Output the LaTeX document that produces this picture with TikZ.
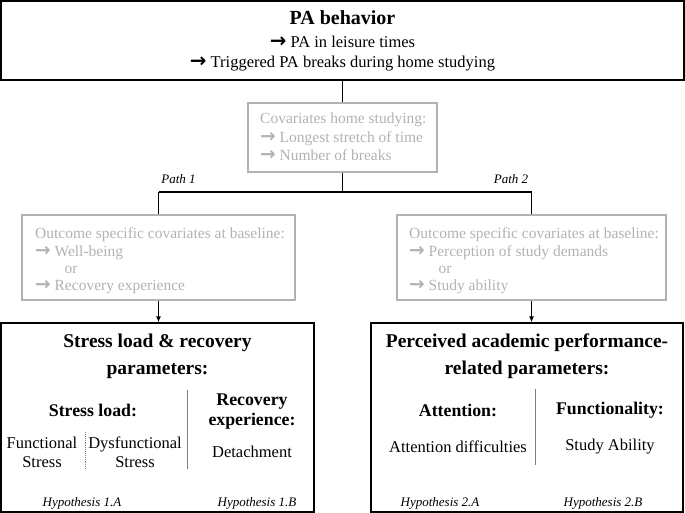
\documentclass[tikz,border=0pt]{standalone}
\usepackage{fontspec}
\setmainfont{Liberation Serif}
\newfontfamily\arrowfont{DejaVu Sans}
\newcommand\rarr{{\arrowfont\bfseries\fontsize{1.2em}{1em}\selectfont →}}
\usetikzlibrary{arrows.meta}
\definecolor{lightgrey}{RGB}{178,178,178}

\tikzset{
  box/.style={draw, line width=1.3pt, inner sep=0pt},
  greybox/.style={draw=lightgrey, line width=1.3pt, inner sep=0pt},
  conn/.style={line width=1.1pt},
  head/.style={font=\fontsize{19.5}{27}\selectfont\bfseries, align=center},
  subhead/.style={font=\fontsize{17.8}{20}\selectfont\bfseries, align=center},
  txt/.style={font=\fontsize{16.5}{19}\selectfont, align=center},
  greytxt/.style={font=\fontsize{15.5}{17.2}\selectfont, text=lightgrey, align=left, inner sep=0pt},
  hyp/.style={font=\fontsize{13}{15}\selectfont\itshape},
  divider/.style={draw=gray, line width=0.9pt},
}

\begin{document}
\begin{tikzpicture}[x=1pt,y=-1pt]
\useasboundingbox (0,0) rectangle (685,513);
% PA behaviour
\node[box, minimum width=683, minimum height=79] (pa) at (342.5,40.5) {};
\node[head, font=\fontsize{20}{24}\selectfont\bfseries] (patitle) at (342.5,18) {PA behavior};
\node[txt] (pa1) at (342.5,42) {\rarr\ PA in leisure times};
\node[txt] (pa2) at (342.5,64) {\rarr\ Triggered PA breaks during home studying};
% covariates home studying
\node[greybox, minimum width=189, minimum height=69] (cov) at (342.5,137.5) {};
\node[greytxt, anchor=west, font=\fontsize{15.5}{18.5}\selectfont] (covtxt) at (260,137) {Covariates home studying:\\\rarr\ Longest stretch of time\\\rarr\ Number of breaks};
% paths
\coordinate (split) at (342.5,192);
\coordinate (left) at (158.5,192);
\coordinate (right) at (531.5,192);
\node[hyp] (path1) at (178.5,179) {Path 1};
\node[hyp] (path2) at (511,179) {Path 2};
% outcome specific covariates
\node[greybox, minimum width=273, minimum height=85] (out1) at (158.5,257.5) {};
\node[greytxt, anchor=west] (out1txt) at (35,261) {Outcome specific covariates at baseline:\\\rarr\ Well-being\\\hspace*{1.9em}or\\\rarr\ Recovery experience};
\node[greybox, minimum width=269, minimum height=85] (out2) at (531.5,257.5) {};
\node[greytxt, anchor=west] (out2txt) at (409,261) {Outcome specific covariates at baseline:\\\rarr\ Perception of study demands\\\hspace*{1.9em}or\\\rarr\ Study ability};
% stress load and recovery
\node[box, minimum width=313, minimum height=189] (res1) at (157.5,417.5) {};
\node[head] (res1title) at (157.5,356.5) {Stress load \& recovery\\parameters:};
\node[subhead] (stress) at (93,410) {Stress load:};
\node[subhead] (recov) at (252,412) {Recovery\\experience:};
\node[txt] (func) at (42,452) {Functional\\Stress};
\node[txt] (dysfunc) at (135,452) {Dysfunctional\\Stress};
\node[txt] (detach) at (252,452) {Detachment};
\node[hyp] (h1a) at (82,503) {Hypothesis 1.A};
\node[hyp] (h1b) at (257,503) {Hypothesis 1.B};
\draw[divider] (187,390) -- (187,469);
\draw[divider, densely dotted] (85,432) -- (85,469);
% academic performance
\node[box, minimum width=312, minimum height=189] (res2) at (527,417.5) {};
\node[head] (res2title) at (527,356.5) {Perceived academic performance-\\related parameters:};
\node[subhead] (attn) at (458,410) {Attention:};
\node[subhead] (functy) at (610,410) {Functionality:};
\node[txt] (attdiff) at (458,447) {Attention difficulties};
\node[txt] (ability) at (610,447) {Study Ability};
\node[hyp] (h2a) at (440,503) {Hypothesis 2.A};
\node[hyp] (h2b) at (603,503) {Hypothesis 2.B};
\draw[divider] (535,389) -- (535,465);
% connectors
\draw[conn] (pa) -- (cov);
\draw[conn] (cov) -- (split);
\draw[conn] (left) -- (right);
\draw[conn] (left) -- (out1);
\draw[conn] (right) -- (out2);
\draw[conn, -{Latex[length=6pt,width=5pt]}] (out1.south) -- (out1.south |- res1.north);
\draw[conn, -{Latex[length=6pt,width=5pt]}] (out2.south) -- (out2.south |- res2.north);
\end{tikzpicture}
\end{document}
